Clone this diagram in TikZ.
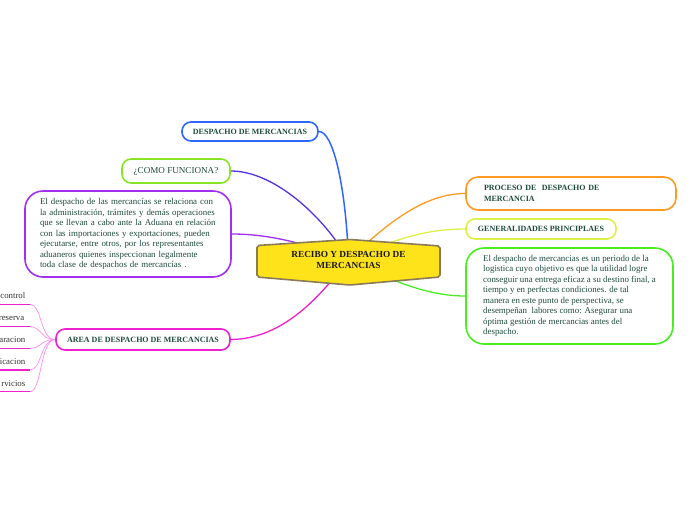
\documentclass[tikz,border=0pt]{standalone}
\usepackage{fontspec}
\setmainfont{Liberation Serif}
\usetikzlibrary{backgrounds}
\definecolor{txt}{HTML}{1E4A3C}
\definecolor{leaftxt}{HTML}{333333}
\definecolor{cblue}{HTML}{2F66FF}
\definecolor{cindigo}{HTML}{5530E0}
\definecolor{clime}{HTML}{88E422}
\definecolor{cpurple}{HTML}{A030EE}
\definecolor{cmag}{HTML}{F020D0}
\definecolor{cpink}{HTML}{FF8CEE}
\definecolor{corange}{HTML}{FF9A22}
\definecolor{cyel}{HTML}{DDF048}
\definecolor{cgreen}{HTML}{48EE22}
\definecolor{hexfill}{HTML}{FFE31A}
\definecolor{hexline}{HTML}{8A7A55}
\begin{document}
\begin{tikzpicture}[x=1pt,y=-1pt,
  box/.style={draw, rounded corners=9pt, line width=1.6pt, fill=white, text=txt, inner sep=0pt},
  capsfont/.style={font=\fontsize{8}{10.5}\selectfont\bfseries},
  parafont/.style={font=\fontsize{8.9}{10.5}\selectfont},
  conn/.style={line width=1.3pt},
  leaf/.style={anchor=east, text=leaftxt, inner sep=0pt, font=\fontsize{8.8}{10}\selectfont},
  under/.style={draw=cmag, line width=1.4pt},
  leafconn/.style={draw=cpink, line width=0.7pt}
]
\useasboundingbox (0,0) rectangle (696,520);

% nodes
\node[box, draw=cblue, capsfont, minimum width=136, minimum height=19] (dm) at (250,131.5) {DESPACHO DE MERCANCIAS};
\node[box, draw=clime, font=\fontsize{9.1}{10}\selectfont, minimum width=108, minimum height=24] (como) at (176,171) {¿COMO FUNCIONA?};
\node[box, draw=cpurple, rounded corners=18pt, parafont, align=left, text width=176, inner xsep=15, minimum height=86] (p1) at (128,234) {El despacho de las mercancías se relaciona con\\la administración, trámites y demás operaciones\\que se llevan a cabo ante la Aduana en relación\\con las importaciones y exportaciones, pueden\\ejecutarse, entre otros, por los representantes\\aduaneros quienes inspeccionan legalmente\\toda clase de despachos de mercancías .};
\node[box, draw=cmag, capsfont, minimum width=174, minimum height=21] (area) at (143,339.5) {AREA DE DESPACHO DE MERCANCIAS};
\node[box, draw=corange, rounded corners=12pt, capsfont, align=left, text width=174, inner xsep=18, minimum height=33] (proc) at (571,193.5) {PROCESO DE\ \ DESPACHO DE\\MERCANCIA};
\node[box, draw=cyel, capsfont, minimum width=150, minimum height=20] (gen) at (541,229) {GENERALIDADES PRINCIPLAES};
\node[box, draw=cgreen, rounded corners=18pt, parafont, align=left, minimum width=207, minimum height=96] (p2) at (569.5,296) {El despacho de mercancias es un periodo de la\\logistica cuyo objetivo es que la utilidad logre\\conseguir una entrega eficaz a su destino final, a\\tiempo y en perfectas condiciones. de tal\\manera en este punto de perspectiva, se\\desempeñan\ \ labores como: Asegurar una\\óptima gestión de mercancias antes del\\despacho.};

% central node
\path[draw=hexline, fill=hexfill, line width=1.6pt, rounded corners=2pt]
  (257,245.5) -- (350,239.5) -- (440,246) -- (440,277) -- (350,285) -- (257,277) -- cycle;
\node[font=\fontsize{9.3}{11}\selectfont\bfseries, text=black!90, align=center, inner sep=0pt] (c) at (348.5,259.5) {RECIBO Y DESPACHO DE\\MERCANCIAS};

% leaves
\node[leaf] (l1) at (25.5,295.5) {control};
\node[leaf] (l2) at (24.5,318) {reserva};
\node[leaf] (l3) at (25.5,339.5) {aracion};
\node[leaf] (l4) at (25.5,361.5) {icacion};
\node[leaf] (l5) at (25.5,384) {rvicios};
\coordinate (u1a) at (0,304.3); \coordinate (u1b) at (30,304.3);
\coordinate (u2a) at (0,326.7); \coordinate (u2b) at (30,326.7);
\coordinate (u3a) at (0,348.3); \coordinate (u3b) at (30,348.3);
\coordinate (u4a) at (0,370);   \coordinate (u4b) at (30,370);
\coordinate (u5a) at (0,391.7); \coordinate (u5b) at (30,391.7);

\begin{pgfonlayer}{background}
  \draw[conn, cblue, line width=1.5pt] (dm.east) .. controls (333,131) and (345,185) .. (c);
  \draw[conn, cindigo] (como.east) .. controls (272,171) and (318,212) .. (c);
  \draw[conn, cpurple] (p1.east) .. controls (268,234) and (300,243) .. (c);
  \draw[conn, cmag] (area.east) .. controls (282,339) and (318,298) .. (c);
  \draw[conn, corange] (c) .. controls (390,222) and (425,193.5) .. (proc.west);
  \draw[conn, cyel] (c) .. controls (405,236) and (432,229) .. (gen.west);
  \draw[conn, cgreen] (c) .. controls (400,284) and (432,296) .. (p2.west);
  \foreach \i in {1,...,5}{
    \draw[leafconn] (u\i b) .. controls (42,0|-u\i b) and (40,339.5) .. (area.west);
    \draw[under] (u\i a) -- (u\i b);
  }
\end{pgfonlayer}
\end{tikzpicture}
\end{document}
